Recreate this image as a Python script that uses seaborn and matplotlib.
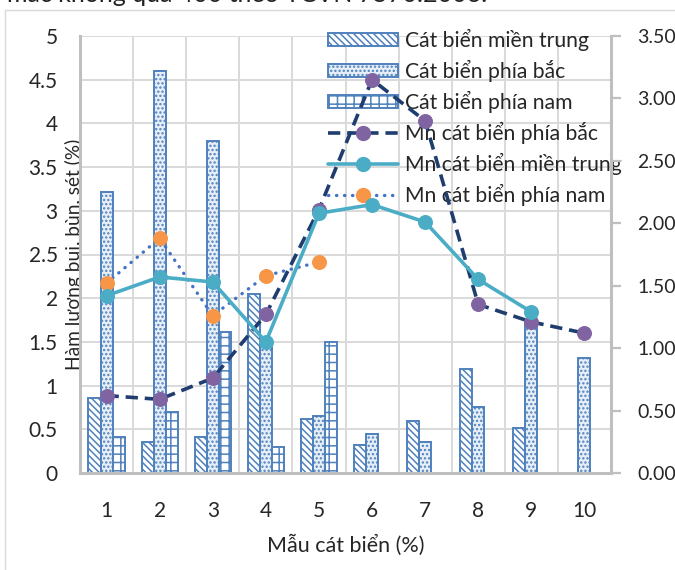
import numpy as np
import pandas as pd
import matplotlib
matplotlib.use("Agg")
import matplotlib.pyplot as plt
import matplotlib.patches as mpatches
from matplotlib.lines import Line2D
from matplotlib.ticker import FuncFormatter
import seaborn as sns

nan = np.nan

# ---------------- data ----------------
samples = ["1", "2", "3", "4", "5", "6", "7", "8", "9", "10"]
bar_series = ["Cát biển miền trung", "Cát biển phía bắc", "Cát biển phía nam"]
bar_mien_trung = [0.86, 0.35, 0.41, 2.05, 0.62, 0.32, 0.60, 1.19, 0.52, nan]
bar_phia_bac = [3.21, 4.60, 3.80, 1.50, 0.65, 0.45, 0.35, 0.76, 1.75, 1.32]
bar_phia_nam = [0.41, 0.70, 1.61, 0.30, 1.50, nan, nan, nan, nan, nan]

line_series = ["Mn cát biển phía bắc", "Mn cát biển miền trung", "Mn cát biển phía nam"]
mn_phia_bac = [0.62, 0.59, 0.76, 1.27, 2.11, 3.15, 2.82, 1.35, 1.21, 1.12]
mn_mien_trung = [1.42, 1.57, 1.53, 1.05, 2.08, 2.15, 2.01, 1.55, 1.29, nan]
mn_phia_nam = [1.52, 1.88, 1.26, 1.58, 1.69, nan, nan, nan, nan, nan]

left_ticks = [0, 0.5, 1, 1.5, 2, 2.5, 3, 3.5, 4, 4.5, 5]
right_ticks = [0, 0.5, 1, 1.5, 2, 2.5, 3, 3.5]

# ---------------- style ----------------
sns.set_theme(style="white")
plt.rcParams["font.family"] = ["Lato", "DejaVu Sans"]
plt.rcParams["hatch.linewidth"] = 1.1

FS = 15
LFS = 15.2
EDGE = "#4F81BD"
GRID = "#D9D9D9"
SPINE = "#BFBFBF"

fig = plt.figure(figsize=(6.75, 5.70), dpi=100)
W, H = 675, 570
ax = fig.add_axes([80 / W, 1 - 473 / H, (611 - 80) / W, (473 - 36) / H])

df = pd.DataFrame({
    "sample": samples * 3,
    "series": [bar_series[0]] * 10 + [bar_series[1]] * 10 + [bar_series[2]] * 10,
    "value": bar_mien_trung + bar_phia_bac + bar_phia_nam,
})

face = {bar_series[0]: "#FFFFFF", bar_series[1]: "#E6EEF8", bar_series[2]: "#FFFFFF"}
hatches = {bar_series[0]: "\\\\\\\\\\", bar_series[1]: "....", bar_series[2]: "++"}

sns.barplot(data=df, x="sample", y="value", hue="series", order=samples,
            hue_order=bar_series, palette=face, saturation=1, width=0.68,
            edgecolor=EDGE, linewidth=1.4, legend=False, ax=ax, errorbar=None)

for cont, name in zip(ax.containers, bar_series):
    for p in cont.patches:
        p.set_hatch(hatches[name])
        p.set_edgecolor(EDGE)
        p.set_facecolor(face[name])

ax.set_xlim(-0.5, 9.5)
ax.set_ylim(0, 5)
ax.set_yticks(left_ticks)
ax.yaxis.set_major_formatter(FuncFormatter(lambda v, p: f"{v:g}"))
ax.set_axisbelow(True)
ax.yaxis.grid(True, color=GRID, lw=1.4)
ax.set_xticks(np.arange(-0.5, 10, 1), minor=True)
ax.xaxis.grid(True, which="minor", color=GRID, lw=1.4)
ax.xaxis.grid(False, which="major")
ax.tick_params(axis="x", which="both", length=0, labelsize=FS, pad=20)
ax.tick_params(axis="y", length=0, labelsize=FS, pad=16)
for s in ["top", "right"]:
    ax.spines[s].set_visible(False)
for s in ["left", "bottom"]:
    ax.spines[s].set_color(SPINE)
    ax.spines[s].set_linewidth(2.2)

ax.set_xlabel("Mẫu cát biển (%)", fontsize=15.5, labelpad=10)
ax.set_ylabel("Hàm lượng bụi, bùn, sét (%)", fontsize=13.8, va="center")
ax.yaxis.set_label_coords(-6 / 531, 0.50)

# ---------------- lines on right axis ----------------
ax2 = ax.twinx()
pos = np.arange(len(samples))
line_styles = [
    dict(color="#1F3D6E", lw=2.6, linestyle=(0, (3.4, 1.9)), marker="o", markersize=10,
         markerfacecolor="#8064A2", markeredgecolor="#8064A2"),
    dict(color="#4BACC6", lw=2.6, linestyle="-", marker="o", markersize=10,
         markerfacecolor="#4BACC6", markeredgecolor="#4BACC6"),
    dict(color="#4472C4", lw=2.4, linestyle=(0, (0.1, 2.3)), dash_capstyle="round", marker="o",
         markersize=10, markerfacecolor="#F79646", markeredgecolor="#F79646"),
]
line_vals = [mn_phia_bac, mn_mien_trung, mn_phia_nam]
for idx in [2, 0, 1]:
    sns.lineplot(x=pos, y=line_vals[idx], ax=ax2, legend=False, **line_styles[idx])

ax2.set_xlim(-0.5, 9.5)
ax2.set_ylim(0, 3.5)
ax2.set_yticks(right_ticks)
ax2.yaxis.set_major_formatter(FuncFormatter(lambda v, p: f"{v:.2f}"))
ax2.tick_params(axis="y", direction="out", length=7, width=1.6, color=SPINE,
                labelsize=14, pad=12)
ax2.grid(False)
for s in ["top", "left", "bottom"]:
    ax2.spines[s].set_visible(False)
ax2.spines["right"].set_color(SPINE)
ax2.spines["right"].set_linewidth(2.2)
ax2.set_ylabel("")

# ---------------- legend ----------------
handles = []
for name in bar_series:
    handles.append(mpatches.Patch(facecolor=face[name], edgecolor=EDGE, hatch=hatches[name], lw=1.4))
for st in line_styles:
    handles.append(Line2D([], [], **st))
labels = bar_series + line_series
lpx = LFS * 100 / 72
ax.legend(handles, labels, loc="upper left", bbox_to_anchor=(328 / W, 1 - 29 / H),
          bbox_transform=fig.transFigure, frameon=False, fontsize=LFS,
          handlelength=70 / lpx, handleheight=12 / lpx, handletextpad=7 / lpx,
          labelspacing=(30 - lpx) / lpx, borderpad=0, borderaxespad=0)

# ---------------- surrounding page bits ----------------
fig.patches.append(mpatches.Rectangle((5 / W, -0.1), 1.2, 1 - 10 / H + 0.1,
                                      transform=fig.transFigure, fill=False,
                                      edgecolor=GRID, lw=1.0))
fig.text(7 / W, 1 - 2.5 / H, "mác không quá 400 theo TCVN 7570:2006.", fontsize=18,
         ha="left", va="baseline", color="#222222")

fig.savefig("out.png", dpi=100)
